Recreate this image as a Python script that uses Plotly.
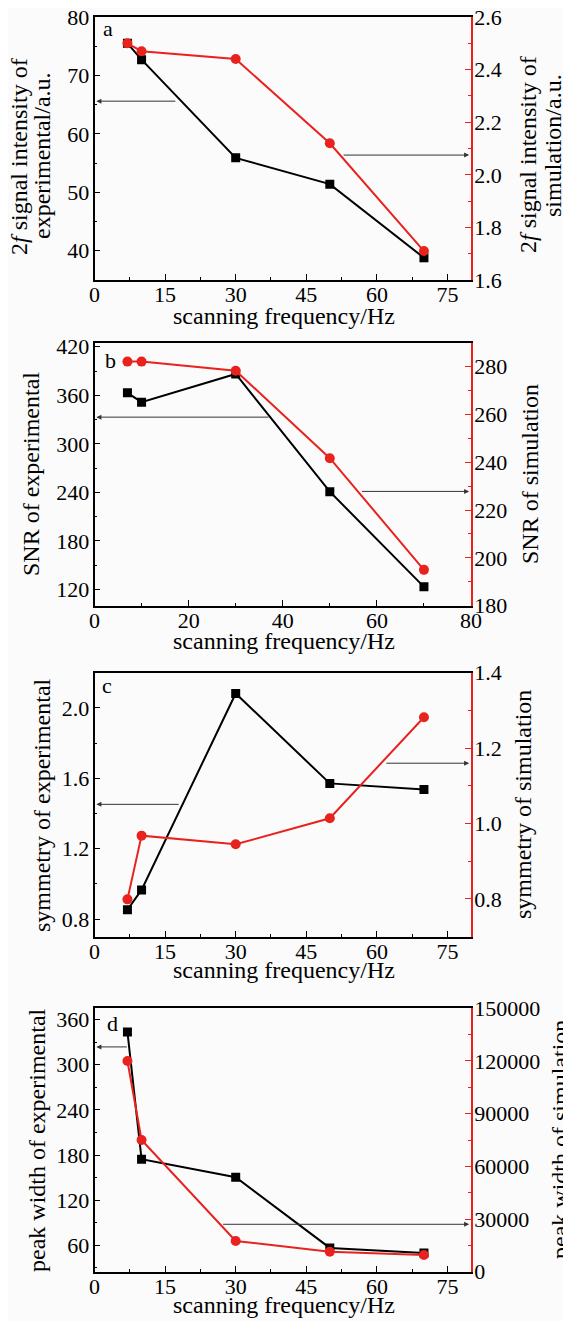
import plotly.graph_objects as go

W, H = 571, 1321
OFF = 8  # the page body keeps its default 8px margin
FW, FH = W - OFF, H - OFF

# scanning frequency (Hz), shared by all four panels
freq = [7, 10, 30, 50, 70]

# panel a: 2f signal intensity
a_exp = [75.5, 72.7, 55.9, 51.4, 38.8]
a_sim = [2.50, 2.47, 2.44, 2.12, 1.71]
# panel b: SNR
b_exp = [363.0, 351.5, 386.4, 240.9, 123.3]
b_sim = [282.1, 282.1, 278.3, 241.7, 195.0]
# panel c: symmetry
c_exp = [0.853, 0.966, 2.082, 1.571, 1.537]
c_sim = [0.799, 0.968, 0.945, 1.014, 1.282]
# panel d: peak width
d_exp = [343.6, 174.5, 150.6, 56.6, 50.0]
d_sim = [120000, 75000, 17500, 11400, 9500]

FONT = "Liberation Serif, Times New Roman, serif"
RED = "#e8231f"

# each title line: (text, x centre, y centre) in page pixels
panels = [
    dict(letter=("a", 108, 29), exp=a_exp, sim=a_sim, top=17, bot=280,
         xr=[0, 80], xd=15, yl=[35, 80], yl0=40, yld=10, ylm=5, ylf="",
         yr=[1.6, 2.6], yr0=1.6, yrd=0.2, yrm=0.1, yrf=".1f",
         titles=[("2<i>f</i> signal intensity of", 19, 157),
                 ("experimental/a.u.", 42, 156),
                 ("2<i>f</i> signal intensity of", 528, 155),
                 ("simulation/a.u.", 553, 146)],
         arrows=[(17.5, 0.4, 65.6, "l"), (52.6, 79.6, 2.075, "r")], xt=316),
    dict(letter=("b", 110, 361), exp=b_exp, sim=b_sim, top=342.7, bot=605.7,
         xr=[0, 80], xd=20, yl=[100, 425], yl0=120, yld=60, ylm=30, ylf="",
         yr=[180, 290], yr0=180, yrd=20, yrm=10, yrf="",
         titles=[("SNR of experimental", 31, 474),
                 ("SNR of simulation", 530, 474)],
         arrows=[(37.3, 0.4, 333, "l"), (56.5, 79.6, 227.8, "r")], xt=641),
    dict(letter=("c", 107, 686), exp=c_exp, sim=c_sim, top=672.7, bot=936.7,
         xr=[0, 80], xd=15, yl=[0.7, 2.2], yl0=0.8, yld=0.4, ylm=0.2, ylf=".1f",
         yr=[0.7, 1.4], yr0=0.8, yrd=0.2, yrm=0.1, yrf=".1f",
         titles=[("symmetry of experimental", 42, 805),
                 ("symmetry of simulation", 523, 805)],
         arrows=[(18.2, 0.4, 1.452, "l"), (61.7, 79.6, 1.16, "r")], xt=970),
    dict(letter=("d", 112, 1024), exp=d_exp, sim=d_sim, top=1008.3, bot=1271.7,
         xr=[0, 80], xd=15, yl=[25, 375], yl0=60, yld=60, ylm=30, ylf="",
         yr=[0, 150000], yr0=0, yrd=30000, yrm=15000, yrf="d",
         titles=[("peak width of experimental", 37, 1140),
                 ("peak width of simulation", 560, 1140)],
         arrows=[(7.2, 0.4, 323.7, "l"), (27.0, 79.6, 27000, "r")], xt=1305),
]


def fx(px):
    return (px - OFF) / FW


def fy(py):
    return 1 - (py - OFF) / FH


def text_note(text, px, py, angle=0, size=24):
    # free text placed by its centre, in page pixels from the top-left corner
    return dict(text=text, xref="paper", yref="paper", x=fx(px), y=fy(py),
                xanchor="center", yanchor="middle", textangle=angle,
                showarrow=False, font=dict(family=FONT, size=size, color="black"))


fig = go.Figure()
annotations = []
xdom = [fx(94.5), fx(471)]
tickfont = dict(family=FONT, size=22, color="black")

for i, p in enumerate(panels):
    n = i + 1
    xa = "x" if n == 1 else f"x{n}"
    yl_id = 2 * n - 1
    yr_id = 2 * n
    yl = "y" if yl_id == 1 else f"y{yl_id}"
    yr = f"y{yr_id}"
    dom = [fy(p["bot"]), fy(p["top"])]

    fig.add_trace(go.Scatter(
        x=freq, y=p["exp"], xaxis=xa, yaxis=yl, mode="lines+markers",
        line=dict(color="black", width=2),
        marker=dict(symbol="square", size=9, color="black"), showlegend=False))
    fig.add_trace(go.Scatter(
        x=freq, y=p["sim"], xaxis=xa, yaxis=yr, mode="lines+markers",
        line=dict(color=RED, width=2),
        marker=dict(symbol="circle", size=10, color=RED), showlegend=False))

    xkey = "xaxis" if n == 1 else f"xaxis{n}"
    ylkey = "yaxis" if yl_id == 1 else f"yaxis{yl_id}"
    yrkey = f"yaxis{yr_id}"

    fig.update_layout({
        xkey: dict(domain=xdom, anchor=yl, range=p["xr"], tick0=0, dtick=p["xd"],
                   ticks="inside", ticklen=6, tickcolor="black", showline=True,
                   linecolor="black", linewidth=1.5, mirror=True, showgrid=False,
                   zeroline=False, automargin=False, ticklabelstandoff=-6,
                   ticklabeloverflow="allow", tickfont=tickfont,
                   minor=dict(ticks="inside", ticklen=3, tickcolor="black",
                              dtick=p["xd"] / 2, showgrid=False)),
        ylkey: dict(domain=dom, anchor=xa, range=p["yl"], tick0=p["yl0"], dtick=p["yld"],
                    tickformat=p["ylf"], ticks="inside", ticklen=6, tickcolor="black",
                    showline=True, linecolor="black", linewidth=1.5, showgrid=False,
                    zeroline=False, automargin=False, ticklabelstandoff=-1,
                    ticklabeloverflow="allow", tickfont=tickfont,
                    minor=dict(ticks="inside", ticklen=3, tickcolor="black",
                               dtick=p["ylm"], showgrid=False)),
        yrkey: dict(domain=dom, anchor=xa, overlaying=yl, side="right", range=p["yr"],
                    tick0=p["yr0"], dtick=p["yrd"], tickformat=p["yrf"],
                    ticks="inside", ticklen=6, tickcolor=RED, showline=True,
                    linecolor=RED, linewidth=1.5, showgrid=False, zeroline=False,
                    automargin=False, ticklabelstandoff=-3,
                    ticklabeloverflow="allow", tickfont=tickfont,
                    minor=dict(ticks="inside", ticklen=3, tickcolor=RED,
                               dtick=p["yrm"], showgrid=False)),
    })

    letter, lx, ly = p["letter"]
    annotations.append(text_note(letter, lx, ly, size=22))
    for text, tx, ty in p["titles"]:
        annotations.append(text_note(text, tx, ty, -90))
    annotations.append(text_note("scanning frequency/Hz", 284, p["xt"]))
    # arrows pointing at the axis each curve belongs to
    for tail, head, yv, side in p["arrows"]:
        yref = yl if side == "l" else yr
        annotations.append(dict(x=head, y=yv, ax=tail, ay=yv, xref=xa, yref=yref,
                                axref=xa, ayref=yref, showarrow=True, text="",
                                arrowhead=2, arrowsize=1, arrowwidth=1,
                                arrowcolor="#333333"))

fig.update_layout(
    width=FW, height=FH, margin=dict(l=0, r=0, t=0, b=0),
    paper_bgcolor="#fbfbfb", plot_bgcolor="#fbfbfb",
    annotations=annotations, showlegend=False,
)

fig.write_html("out.html")
